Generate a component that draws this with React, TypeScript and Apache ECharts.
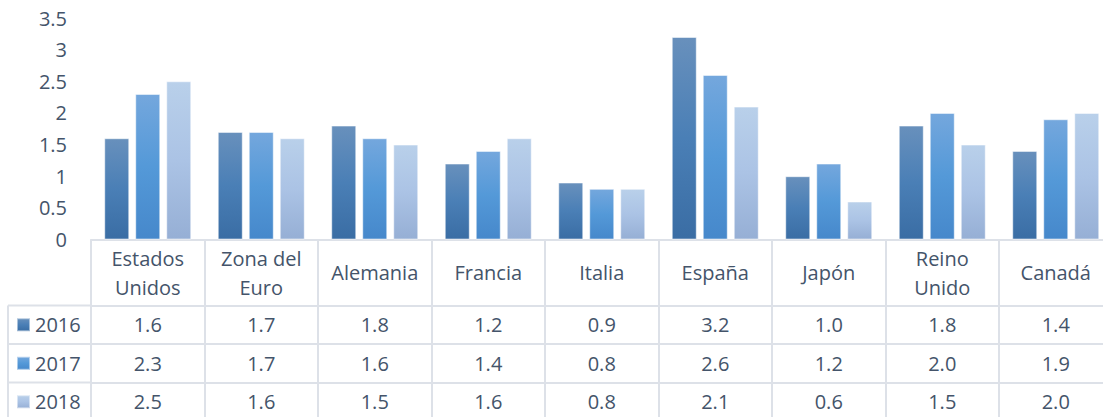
import React, { useEffect, useRef } from "react";
import * as echarts from "echarts";

const categories = ["Estados\nUnidos", "Zona del\nEuro", "Alemania", "Francia", "Italia", "España", "Japón", "Reino\nUnido", "Canadá"];
const years = ["2016", "2017", "2018"];
const values2016 = [1.6, 1.7, 1.8, 1.2, 0.9, 3.2, 1.0, 1.8, 1.4];
const values2017 = [2.3, 1.7, 1.6, 1.4, 0.8, 2.6, 1.2, 2.0, 1.9];
const values2018 = [2.5, 1.6, 1.5, 1.6, 0.8, 2.1, 0.6, 1.5, 2.0];
const seriesValues = [values2016, values2017, values2018];

const gradients: [string, string, string][] = [
  ["#6890bc", "#4a7fb6", "#3a6da4"],
  ["#74a7dd", "#5499d8", "#4688cb"],
  ["#b9d0ea", "#abc3e5", "#96afd5"],
];

const TEXT = "#44546A";
const LINE = "#dde1e8";
const FONT = "Open Sans";

const GRID_LEFT = 91;
const GRID_TOP = 18;
const CAT_W = 113.5;
const AXIS_Y = 239.5;
const ROW_LINES = [305.5, 344, 382.5];
const ROW_H = 38.5;

export default function App() {
  const ref = useRef<HTMLDivElement>(null);
  useEffect(() => {
    if (!ref.current) return;
    const chart = echarts.init(ref.current, null, { renderer: "svg" });
    const gridWidth = CAT_W * categories.length;
    const gridHeight = AXIS_Y - GRID_TOP;

    const valueAxes = seriesValues.map((vals, i) => ({
      type: "category" as const,
      gridIndex: 0,
      position: "bottom" as const,
      offset: ROW_LINES[i] - AXIS_Y,
      data: categories,
      axisLine: { show: true, lineStyle: { color: LINE, width: 2 } },
      axisTick: { show: false },
      axisLabel: {
        interval: 0,
        margin: ROW_H / 2,
        verticalAlign: "middle" as const,
        color: TEXT,
        fontFamily: FONT,
        fontSize: 20,
        formatter: (_v: string, idx: number) => vals[idx].toFixed(1),
      },
    }));

    const lineEls: any[] = ROW_LINES.map((y) => ({
      type: "line",
      shape: { x1: 8, y1: y, x2: GRID_LEFT, y2: y },
      style: { stroke: LINE, lineWidth: 2 },
      silent: true,
    }));
    lineEls.push({
      type: "line",
      shape: { x1: 8, y1: ROW_LINES[0], x2: 8, y2: 420 },
      style: { stroke: LINE, lineWidth: 2 },
      silent: true,
    });

    chart.setOption({
      animation: false,
      textStyle: { fontFamily: FONT },
      grid: { left: GRID_LEFT, top: GRID_TOP, width: gridWidth, height: gridHeight, containLabel: false },
      legend: years.map((y, i) => ({
        data: [y],
        orient: "vertical",
        left: 16,
        top: ROW_LINES[i] + ROW_H / 2 - 10,
        padding: 0,
        itemWidth: 13,
        itemHeight: 13,
        icon: "rect",
        selectedMode: false,
        textStyle: { color: TEXT, fontFamily: FONT, fontSize: 20, lineHeight: 20 },
      })),
      xAxis: [
        {
          type: "category",
          gridIndex: 0,
          position: "bottom",
          data: categories,
          axisLine: { show: true, lineStyle: { color: LINE, width: 2 } },
          axisTick: { show: true, length: 180, lineStyle: { color: LINE, width: 2 } },
          axisLabel: {
            interval: 0,
            margin: 33,
            verticalAlign: "middle",
            color: TEXT,
            fontFamily: FONT,
            fontSize: 20,
            lineHeight: 29,
          },
        },
        ...valueAxes,
      ],
      yAxis: {
        type: "value",
        min: 0,
        max: 3.5,
        interval: 0.5,
        axisLine: { show: false },
        axisTick: { show: false },
        splitLine: { show: false },
        axisLabel: { color: TEXT, fontFamily: FONT, fontSize: 20, margin: 24 },
      },
      graphic: lineEls,
      series: years.map((y, i) => ({
        name: y,
        type: "bar",
        xAxisIndex: 0,
        data: seriesValues[i],
        barWidth: 25,
        barGap: "24%",
        itemStyle: {
          color: new echarts.graphic.LinearGradient(0, 0, 0, 1, [
            { offset: 0, color: gradients[i][0] },
            { offset: 0.5, color: gradients[i][1] },
            { offset: 1, color: gradients[i][2] },
          ]),
          borderColor: "rgba(255,255,255,0.5)",
          borderWidth: 1,
        },
      })),
    });
    return () => chart.dispose();
  }, []);

  return (
    <div style={{ position: "absolute", left: 0, top: 0, width: 1103, height: 417, overflow: "hidden", background: "#fff" }}>
      <div ref={ref} style={{ width: 1125, height: 417 }} />
    </div>
  );
}
